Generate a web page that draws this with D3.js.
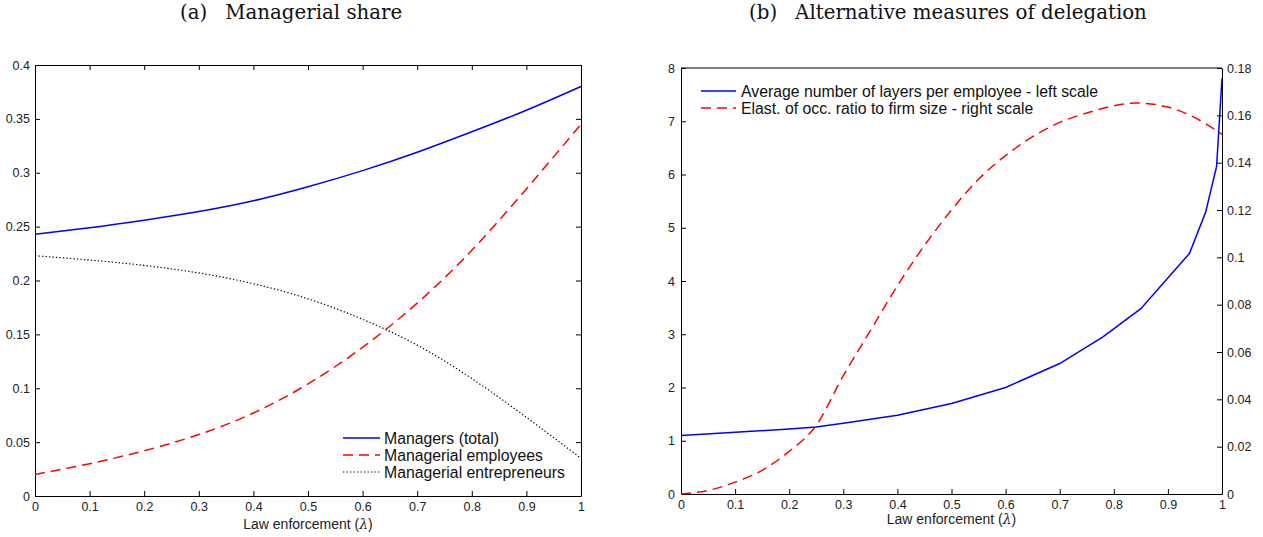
<!DOCTYPE html>
<html><head><meta charset="utf-8">
<script src="https://cdn.jsdelivr.net/npm/d3@7"></script>
<style>
body{margin:0;background:#fff;}
svg{display:block;}
.tick text{font-family:"Liberation Sans",Arial,sans-serif;font-size:12.5px;fill:#222;}
</style></head><body>
<svg id="c" width="1263" height="537"></svg>
<script>
// ---- data ----
const lambda = [0,0.1,0.2,0.3,0.4,0.5,0.6,0.7,0.8,0.9,1.0];
const managersTotal = [0.243,0.249,0.256,0.264,0.274,0.287,0.302,0.319,0.338,0.358,0.380];
const managerialEmployees = [0.020,0.030,0.042,0.057,0.077,0.104,0.138,0.179,0.228,0.285,0.345];
const managerialEntrepreneurs = [0.223,0.219,0.214,0.207,0.197,0.183,0.164,0.140,0.109,0.073,0.035];

const lambdaB1 = [0,0.1,0.2,0.25,0.3,0.4,0.5,0.6,0.7,0.78,0.85,0.94,0.97,0.99,1.0];
const avgLayers = [1.10,1.16,1.22,1.26,1.33,1.48,1.70,2.00,2.45,2.95,3.48,4.52,5.30,6.15,7.80];
const lambdaB2 = [0,0.05,0.1,0.15,0.2,0.25,0.3,0.35,0.4,0.45,0.5,0.55,0.6,0.65,0.7,0.75,0.8,0.84,0.9,0.95,1.0];
const elasticity = [0,0.0015,0.005,0.010,0.018,0.029,0.050,0.069,0.088,0.105,0.120,0.133,0.143,0.151,0.157,0.161,0.164,0.1652,0.1635,0.159,0.152];

const xTicks = [0,0.1,0.2,0.3,0.4,0.5,0.6,0.7,0.8,0.9,1];
const xTickLabels = ["0","0.1","0.2","0.3","0.4","0.5","0.6","0.7","0.8","0.9","1"];
const yTicksA = [0,0.05,0.1,0.15,0.2,0.25,0.3,0.35,0.4];
const yTickLabelsA = ["0","0.05","0.1","0.15","0.2","0.25","0.3","0.35","0.4"];
const yTicksBL = [0,1,2,3,4,5,6,7,8];
const yTicksBR = [0,0.02,0.04,0.06,0.08,0.1,0.12,0.14,0.16,0.18];
const yTickLabelsBR = ["0","0.02","0.04","0.06","0.08","0.1","0.12","0.14","0.16","0.18"];

const titleA = ["(a)", "Managerial share"];
const titleB = ["(b)", "Alternative measures of delegation"];
const legendA = ["Managers (total)","Managerial employees","Managerial entrepreneurs"];
const legendB = ["Average number of layers per employee - left scale","Elast. of occ. ratio to firm size - right scale"];

// ---- drawing ----
const svg = d3.select("#c");
const sans = '"Liberation Sans",Arial,sans-serif';
const serif = '"DejaVu Serif",serif';

function axisStyle(g){
  g.select(".domain").attr("stroke","#000").attr("stroke-width",1);
  g.selectAll(".tick line").attr("stroke","#000");
}
function xLabel(cx, y){
  const t = svg.append("text").attr("x",cx).attr("y",y).attr("text-anchor","middle")
    .attr("font-family",sans).attr("font-size",14).attr("fill","#222");
  t.append("tspan").text("Law enforcement (");
  t.append("tspan").attr("font-family",serif).attr("font-style","italic").text("\u03bb");
  t.append("tspan").text(")");
}
function title(x0, parts){
  const t = svg.append("text").attr("x",x0).attr("y",19).attr("font-family",serif)
    .attr("font-size",19.8).attr("fill","#111");
  t.append("tspan").text(parts[0]);
  t.append("tspan").attr("dx",18).text(parts[1]);
}

// Panel A
{
  const L=35,R=581,T=65,B=496;
  const x = d3.scaleLinear().domain([0,1]).range([L,R]);
  const y = d3.scaleLinear().domain([0,0.4]).range([B,T]);
  svg.append("g").attr("transform",`translate(0,${B})`)
    .call(d3.axisBottom(x).tickValues(xTicks).tickSizeInner(-5).tickSizeOuter(0).tickPadding(6).tickFormat((v,i)=>xTickLabels[i])).call(axisStyle);
  svg.append("g").attr("transform",`translate(0,${T})`)
    .call(d3.axisTop(x).tickValues(xTicks).tickSizeInner(-5).tickSizeOuter(0).tickFormat("")).call(axisStyle);
  svg.append("g").attr("transform",`translate(${L},0)`)
    .call(d3.axisLeft(y).tickValues(yTicksA).tickSizeInner(-5).tickSizeOuter(0).tickPadding(5).tickFormat((v,i)=>yTickLabelsA[i])).call(axisStyle);
  svg.append("g").attr("transform",`translate(${R},0)`)
    .call(d3.axisRight(y).tickValues(yTicksA).tickSizeInner(-5).tickSizeOuter(0).tickFormat("")).call(axisStyle);

  const line = arr => d3.line().curve(d3.curveNatural).x((d,i)=>x(lambda[i])).y(d=>y(d))(arr);
  svg.append("path").attr("d",line(managerialEntrepreneurs)).attr("fill","none").attr("stroke","#000").attr("stroke-width",1.2).attr("stroke-dasharray","1.3,2.2");
  svg.append("path").attr("d",line(managerialEmployees)).attr("fill","none").attr("stroke","#ff0000").attr("stroke-width",1.5).attr("stroke-dasharray","10,6");
  svg.append("path").attr("d",line(managersTotal)).attr("fill","none").attr("stroke","#0000ff").attr("stroke-width",1.5);

  const styles=[["#0000ff",null,1.5],["#ff0000","10,6",1.5],["#000","1.3,2.2",1.2]];
  legendA.forEach((s,i)=>{
    const yy=438+i*17;
    svg.append("line").attr("x1",343).attr("x2",380).attr("y1",yy).attr("y2",yy)
      .attr("stroke",styles[i][0]).attr("stroke-width",styles[i][2]).attr("stroke-dasharray",styles[i][1]);
    svg.append("text").attr("x",384).attr("y",yy+5.5).attr("font-family",sans).attr("font-size",15.8).attr("fill","#111").text(s);
  });
  xLabel((L+R)/2, 529);
  title(180, titleA);
}

// Panel B
{
  const L=681,R=1222,T=68,B=494;
  const x = d3.scaleLinear().domain([0,1]).range([L,R]);
  const yL = d3.scaleLinear().domain([0,8]).range([B,T]);
  const yR = d3.scaleLinear().domain([0,0.18]).range([B,T]);
  svg.append("g").attr("transform",`translate(0,${B})`)
    .call(d3.axisBottom(x).tickValues(xTicks).tickSizeInner(-5).tickSizeOuter(0).tickPadding(6).tickFormat((v,i)=>xTickLabels[i])).call(axisStyle);
  svg.append("line").attr("x1",L).attr("x2",R).attr("y1",T).attr("y2",T).attr("stroke","#000");
  svg.append("g").attr("transform",`translate(${L},0)`)
    .call(d3.axisLeft(yL).tickValues(yTicksBL).tickSizeInner(-5).tickSizeOuter(0).tickPadding(6).tickFormat((v,i)=>String(yTicksBL[i]))).call(axisStyle);
  svg.append("g").attr("transform",`translate(${R},0)`)
    .call(d3.axisRight(yR).tickValues(yTicksBR).tickSizeInner(-5).tickSizeOuter(0).tickPadding(5).tickFormat((v,i)=>yTickLabelsBR[i])).call(axisStyle);

  const lineR = d3.line().curve(d3.curveMonotoneX).x((d,i)=>x(lambdaB2[i])).y(d=>yR(d));
  const lineL = d3.line().curve(d3.curveLinear).x((d,i)=>x(lambdaB1[i])).y(d=>yL(d));
  svg.append("path").attr("d",lineR(elasticity)).attr("fill","none").attr("stroke","#ff0000").attr("stroke-width",1.5).attr("stroke-dasharray","10,6");
  svg.append("path").attr("d",lineL(avgLayers)).attr("fill","none").attr("stroke","#0000ff").attr("stroke-width",1.5);

  const styles=[["#0000ff",null],["#ff0000","10,6"]];
  legendB.forEach((s,i)=>{
    const yy=91+i*17;
    svg.append("line").attr("x1",701).attr("x2",736).attr("y1",yy).attr("y2",yy)
      .attr("stroke",styles[i][0]).attr("stroke-width",1.5).attr("stroke-dasharray",styles[i][1]);
    svg.append("text").attr("x",741).attr("y",yy+5.5).attr("font-family",sans).attr("font-size",15.8).attr("fill","#111").text(s);
  });
  xLabel((L+R)/2, 524);
  title(749, titleB);
}
</script></body></html>
